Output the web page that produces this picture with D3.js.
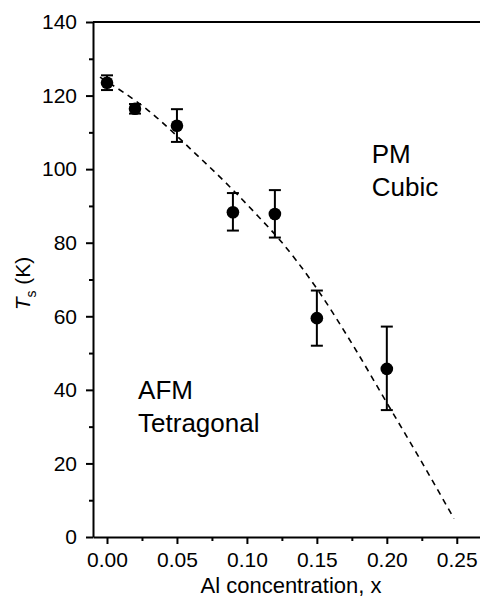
<!DOCTYPE html>
<html>
<head>
<meta charset="utf-8">
<script src="https://cdn.jsdelivr.net/npm/d3@7"></script>
<style>
  html, body { margin: 0; padding: 0; background: #fff; }
  svg { display: block; font-family: "Liberation Sans", Arial, Helvetica, sans-serif; }
</style>
</head>
<body>
<svg id="chart" width="480" height="600"></svg>
<script>
// Measured transition temperatures vs Al concentration
const concentration = [0.00, 0.02, 0.05, 0.09, 0.12, 0.15, 0.20];
const transitionT   = [123.5, 116.4, 111.8, 88.3, 87.8, 59.5, 45.7];
const errLow        = [2.0, 1.3, 4.4, 5.0, 6.4, 7.5, 11.2];
const errHigh       = [2.0, 1.3, 4.5, 5.2, 6.5, 7.5, 11.5];

// Guide-to-the-eye phase boundary (dashed)
const boundaryX = [-0.005, 0.03, 0.063, 0.087, 0.108, 0.1225, 0.15, 0.176, 0.2, 0.224, 0.248];
const boundaryT = [125, 115.8, 104.3, 95.5, 87.2, 81.2, 67.5, 52, 36.5, 21, 5];

// Axis ticks
const xMajorTicks = [0, 0.05, 0.10, 0.15, 0.20, 0.25];
const xMinorTicks = [0.025, 0.075, 0.125, 0.175, 0.225];
const yMajorTicks = [0, 20, 40, 60, 80, 100, 120, 140];
const yMinorTicks = [10, 30, 50, 70, 90, 110, 130];

const svg = d3.select("#chart");
const plotLeft = 93, plotRight = 480, plotTop = 22, plotBottom = 537;

const x = d3.scaleLinear().domain([-0.01, 0.2666]).range([plotLeft, plotRight]);
const y = d3.scaleLinear().domain([0, 140]).range([plotBottom, plotTop]);

const axisStroke = 2;
const tickFont = 21;

// Minor ticks
svg.append("g")
  .attr("transform", `translate(0,${plotBottom})`)
  .call(d3.axisBottom(x).tickValues(xMinorTicks).tickSize(4).tickSizeOuter(0).tickFormat(""))
  .call(g => g.select(".domain").remove())
  .call(g => g.selectAll("line").attr("stroke", "#000").attr("stroke-width", axisStroke));

svg.append("g")
  .attr("transform", `translate(${plotLeft},0)`)
  .call(d3.axisLeft(y).tickValues(yMinorTicks).tickSize(4).tickSizeOuter(0).tickFormat(""))
  .call(g => g.select(".domain").remove())
  .call(g => g.selectAll("line").attr("stroke", "#000").attr("stroke-width", axisStroke));

// Major x axis
const xAxis = svg.append("g")
  .attr("transform", `translate(0,${plotBottom})`)
  .call(d3.axisBottom(x).tickValues(xMajorTicks).tickSize(7).tickSizeOuter(0)
        .tickPadding(8).tickFormat(d3.format(".2f")));
xAxis.select(".domain").attr("stroke", "#000").attr("stroke-width", axisStroke);
xAxis.selectAll("line").attr("stroke", "#000").attr("stroke-width", axisStroke);
xAxis.selectAll("text").attr("font-size", tickFont).attr("fill", "#000")
  .attr("font-family", "Liberation Sans, Arial, sans-serif");

// Major y axis
const yAxis = svg.append("g")
  .attr("transform", `translate(${plotLeft},0)`)
  .call(d3.axisLeft(y).tickValues(yMajorTicks).tickSize(7).tickSizeOuter(0)
        .tickPadding(9).tickFormat(d3.format("d")));
yAxis.select(".domain").attr("stroke", "#000").attr("stroke-width", axisStroke);
yAxis.selectAll("line").attr("stroke", "#000").attr("stroke-width", axisStroke);
yAxis.selectAll("text").attr("font-size", tickFont).attr("fill", "#000")
  .attr("font-family", "Liberation Sans, Arial, sans-serif");

// Top frame line
svg.append("line")
  .attr("x1", plotLeft).attr("x2", plotRight)
  .attr("y1", y(140)).attr("y2", y(140))
  .attr("stroke", "#000").attr("stroke-width", axisStroke);

// Dashed phase boundary
const boundary = boundaryX.map((d, i) => [d, boundaryT[i]]);
svg.append("path")
  .datum(boundary)
  .attr("fill", "none")
  .attr("stroke", "#000")
  .attr("stroke-width", 1.6)
  .attr("stroke-dasharray", "6,5")
  .attr("d", d3.line().x(d => x(d[0])).y(d => y(d[1])).curve(d3.curveMonotoneX));

// Data points with error bars
const pts = concentration.map((c, i) => ({ c, t: transitionT[i], lo: transitionT[i] - errLow[i], hi: transitionT[i] + errHigh[i] }));
const g = svg.append("g").attr("stroke", "#000").attr("stroke-width", 2);
const cap = 6;
g.selectAll(".bar").data(pts).join("line")
  .attr("x1", d => x(d.c)).attr("x2", d => x(d.c))
  .attr("y1", d => y(d.lo)).attr("y2", d => y(d.hi));
g.selectAll(".capHi").data(pts).join("line")
  .attr("x1", d => x(d.c) - cap).attr("x2", d => x(d.c) + cap)
  .attr("y1", d => y(d.hi)).attr("y2", d => y(d.hi));
g.selectAll(".capLo").data(pts).join("line")
  .attr("x1", d => x(d.c) - cap).attr("x2", d => x(d.c) + cap)
  .attr("y1", d => y(d.lo)).attr("y2", d => y(d.lo));
svg.append("g").selectAll("circle").data(pts).join("circle")
  .attr("cx", d => x(d.c)).attr("cy", d => y(d.t)).attr("r", 6.3)
  .attr("fill", "#000");

// Phase labels
const phase = (lines, xv, yv) => {
  const t = svg.append("text").attr("font-size", 26).attr("fill", "#000");
  lines.forEach((s, i) => t.append("tspan").attr("x", x(xv)).attr("y", y(yv) + i * 32.5).text(s));
};
phase(["PM", "Cubic"], 0.1892, 101.6);
phase(["AFM", "Tetragonal"], 0.0222, 37.5);

// Axis titles
svg.append("text")
  .attr("x", 291).attr("y", 593)
  .attr("text-anchor", "middle").attr("font-size", 22).attr("fill", "#000")
  .text("Al concentration, x");

const yt = svg.append("text")
  .attr("transform", `translate(30,${(plotTop + plotBottom) / 2 + 4}) rotate(-90)`)
  .attr("text-anchor", "middle").attr("font-size", 21).attr("fill", "#000");
yt.append("tspan").attr("font-style", "italic").text("T");
yt.append("tspan").attr("font-size", 14).attr("dy", 6).text("s");
yt.append("tspan").attr("dy", -6).text(" (K)");
</script>
</body>
</html>
